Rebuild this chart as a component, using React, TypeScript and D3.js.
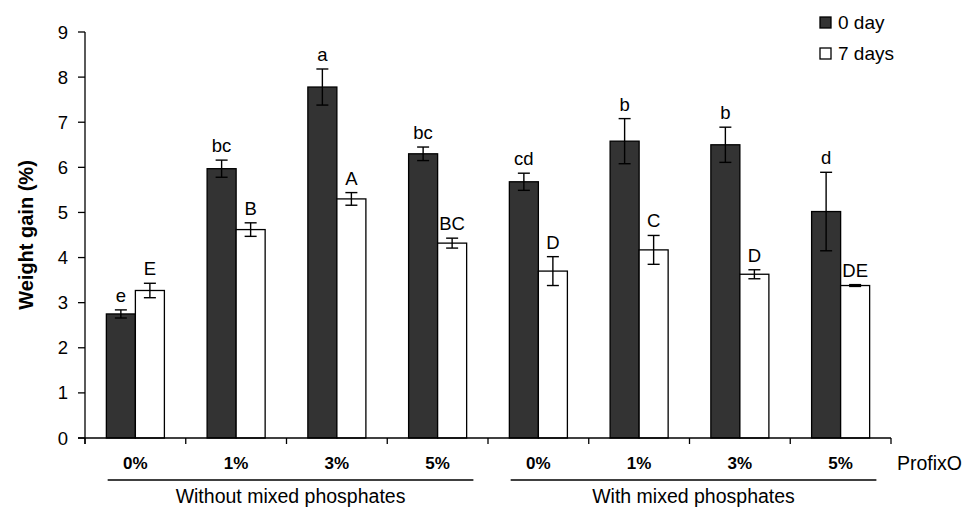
import React from "react";
import * as d3 from "d3";

// ProfixO levels, two groups (without / with mixed phosphates)
const categories = ["0%", "1%", "3%", "5%", "0%", "1%", "3%", "5%"];
const groups = ["Without mixed phosphates", "With mixed phosphates"];
const seriesNames = ["0 day", "7 days"];

const day0 = [2.75, 5.97, 7.78, 6.3, 5.68, 6.58, 6.5, 5.02];
const day0Err = [0.09, 0.19, 0.4, 0.15, 0.19, 0.5, 0.39, 0.87];
const day0Letters = ["e", "bc", "a", "bc", "cd", "b", "b", "d"];

const day7 = [3.27, 4.62, 5.3, 4.32, 3.7, 4.17, 3.63, 3.38];
const day7Err = [0.16, 0.15, 0.14, 0.11, 0.32, 0.32, 0.1, 0.02];
const day7Letters = ["E", "B", "A", "BC", "D", "C", "D", "DE"];

const yTicks = [0, 1, 2, 3, 4, 5, 6, 7, 8, 9];

const W = 967;
const H = 511;
const left = 85;
const right = 891;
const top = 32;
const bottom = 438;
const font = "'Liberation Sans', Arial, Helvetica, sans-serif";
const dark = "#333333";

export default function App() {
  const y = d3.scaleLinear().domain([0, 9]).range([bottom, top]);
  const idx = categories.map((_, i) => i);
  const x = d3.scaleBand<number>().domain(idx).range([left, right]).padding(0);
  const bw = x.bandwidth();
  const barW = bw * 0.288;
  const series = [
    { vals: day0, errs: day0Err, letters: day0Letters, fill: dark, off: -barW },
    { vals: day7, errs: day7Err, letters: day7Letters, fill: "#ffffff", off: 0 },
  ];
  const half = categories.length / 2;
  const groupLines = groups.map((g, gi) => {
    const x0 = x(gi * half)! + bw * 0.225;
    const x1 = x(gi * half + half - 1)! + bw * 0.855;
    return { g, x0, x1 };
  });

  return (
    <svg
      width={W}
      height={H}
      style={{ position: "absolute", left: 0, top: 0, background: "#fff" }}
      fontFamily={font}
    >
      {/* y axis */}
      <line x1={left} x2={left} y1={top} y2={bottom + 6} stroke="#000" strokeWidth={1.3} />
      {yTicks.map((t) => (
        <g key={t}>
          <line x1={left - 7} x2={left} y1={y(t)} y2={y(t)} stroke="#000" strokeWidth={1.3} />
          <text x={left - 17} y={y(t) + 6.5} textAnchor="end" fontSize={18.5}>
            {t}
          </text>
        </g>
      ))}
      <text
        transform={`translate(33,${(top + bottom) / 2}) rotate(-90)`}
        textAnchor="middle"
        fontSize={20}
        fontWeight="bold"
      >
        Weight gain (%)
      </text>

      {/* bars, error bars and letters */}
      {series.map((s, si) =>
        idx.map((i) => {
          const cx = x(i)! + bw / 2;
          const bx = cx + s.off;
          const v = s.vals[i];
          const e = s.errs[i];
          const mid = bx + barW / 2;
          return (
            <g key={`${si}-${i}`}>
              <rect
                x={bx}
                y={y(v)}
                width={barW}
                height={bottom - y(v)}
                fill={s.fill}
                stroke="#000"
                strokeWidth={1.3}
              />
              <line x1={mid} x2={mid} y1={y(v + e)} y2={y(v - e)} stroke="#000" strokeWidth={1.4} />
              <line x1={mid - 6} x2={mid + 6} y1={y(v + e)} y2={y(v + e)} stroke="#000" strokeWidth={1.4} />
              <line x1={mid - 6} x2={mid + 6} y1={y(v - e)} y2={y(v - e)} stroke="#000" strokeWidth={1.4} />
              <text x={mid} y={y(v + e) - 8} textAnchor="middle" fontSize={18.5}>
                {s.letters[i]}
              </text>
            </g>
          );
        })
      )}

      {/* x axis */}
      <line x1={left - 7} x2={right} y1={bottom} y2={bottom} stroke="#000" strokeWidth={1.3} />
      {[...idx, categories.length].map((i) => {
        const xx = i < categories.length ? x(i)! : right;
        return <line key={i} x1={xx} x2={xx} y1={bottom} y2={bottom + 6} stroke="#000" strokeWidth={1.3} />;
      })}
      {categories.map((c, i) => (
        <text key={i} x={x(i)! + bw / 2} y={469} textAnchor="middle" fontSize={17} fontWeight="bold">
          {c}
        </text>
      ))}
      <text x={897} y={470} fontSize={19.5}>
        ProfixO
      </text>
      {groupLines.map((gl) => (
        <g key={gl.g}>
          <line x1={gl.x0} x2={gl.x1} y1={480} y2={480} stroke="#000" strokeWidth={1.3} />
          <text x={(gl.x0 + gl.x1) / 2} y={503} textAnchor="middle" fontSize={19.5}>
            {gl.g}
          </text>
        </g>
      ))}

      {/* legend */}
      {seriesNames.map((n, i) => (
        <g key={n}>
          <rect
            x={820}
            y={17 + i * 31}
            width={11}
            height={11}
            fill={i === 0 ? dark : "#fff"}
            stroke="#000"
            strokeWidth={1.3}
          />
          <text x={838} y={28.5 + i * 31} fontSize={19}>
            {n}
          </text>
        </g>
      ))}
    </svg>
  );
}
